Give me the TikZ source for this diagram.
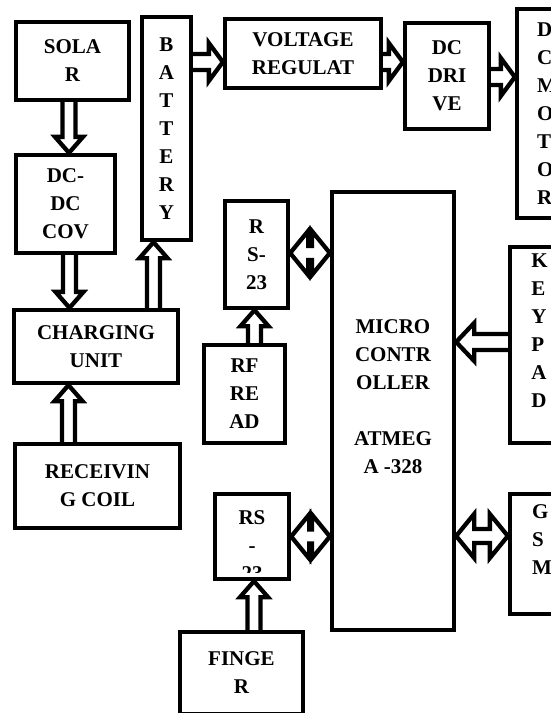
\documentclass[tikz,border=0pt]{standalone}
\usepackage{fontspec}
\setmainfont{Liberation Serif Bold}
\usetikzlibrary{calc}
\tikzset{
  box/.style={draw, line width=4.3pt, align=center, inner sep=0pt,
    font=\fontsize{21}{28}\selectfont},
  txt/.style={align=center, inner sep=0pt, font=\fontsize{21}{28}\selectfont},
  arr/.style={draw, line width=4.3pt, line join=miter, miter limit=10},
}
% horizontal single block arrow: start, end, head length
\newcommand\harrow[3]{%
  \path[arr] let \p1=(#1), \p2=(#2), \n1={ifthenelse(\x2>\x1,1,-1)} in
   (\x1,\y1+8pt) -- (\x2-\n1*#3,\y1+8pt) -- (\x2-\n1*#3,\y1+19pt) -- (\x2,\y1)
   -- (\x2-\n1*#3,\y1-19pt) -- (\x2-\n1*#3,\y1-8pt) -- (\x1,\y1-8pt);}
% vertical single block arrow: start, end
\newcommand\varrow[2]{%
  \path[arr] let \p1=(#1), \p2=(#2), \n1={ifthenelse(\y2>\y1,1,-1)} in
   (\x1-6.5pt,\y1) -- (\x1-6.5pt,\y2-\n1*16pt) -- (\x1-14pt,\y2-\n1*16pt) -- (\x1,\y2)
   -- (\x1+14pt,\y2-\n1*16pt) -- (\x1+6.5pt,\y2-\n1*16pt) -- (\x1+6.5pt,\y1);}
% horizontal double block arrow: left start, right end
\newcommand\darrow[2]{%
  \path[arr] let \p1=(#1), \p2=(#2) in
   (\x1,\y1) -- (\x1+18pt,\y1+22pt) -- (\x1+18pt,\y1+7pt) -- (\x2-18pt,\y1+7pt)
   -- (\x2-18pt,\y1+22pt) -- (\x2,\y1) -- (\x2-18pt,\y1-22pt) -- (\x2-18pt,\y1-7pt)
   -- (\x1+18pt,\y1-7pt) -- (\x1+18pt,\y1-22pt) -- cycle;}
\begin{document}
\begin{tikzpicture}[x=1pt,y=-1pt]
\useasboundingbox (0,0) rectangle (550,713);
% boxes
\node[box, minimum width=113, minimum height=78] (solar) at (72.5,61) {SOLA\\R};
\node[box, minimum width=49, minimum height=223] (battery) at (166.5,128.5) {B\\A\\T\\T\\E\\R\\Y};
\node[box, minimum width=156, minimum height=69] (volt) at (303,53.5) {VOLTAGE\\REGULAT};
\node[box, minimum width=84, minimum height=106] (dcdrive) at (447,76) {DC\\DRI\\VE};
\node[box, align=left, minimum width=60, minimum height=209] (motor) at (547,113.5) {D\\C\\M\\O\\T\\O\\R};
\node[box, minimum width=99, minimum height=98] (dcdc) at (65.5,204) {DC-\\DC\\COV};
\node[box, minimum width=164, minimum height=73] (charging) at (96,346.5) {CHARGING\\UNIT};
\node[box, minimum width=165, minimum height=84] (recv) at (97.5,486) {RECEIVIN\\G COIL};
\node[box, minimum width=63, minimum height=107] (rs1) at (256.5,254.5) {R\\S-\\23};
\node[box, minimum width=81, minimum height=98] (rf) at (244.5,394) {RF\\RE\\AD};
\node[box, minimum width=122, minimum height=438] (micro) at (393,411)
  {MICRO\\CONTR\\OLLER\\[28pt]ATMEG\\A -328\\ \mbox{}};
\node[box, align=left, minimum width=59, minimum height=196] (keypad) at (539.5,345)
  {K\\E\\Y\\P\\A\\D\\ \mbox{}};
\node[box, align=left, minimum width=64, minimum height=120] (gsm) at (542,554)
  {G\\S\\M\\ \mbox{}};
\node[box, minimum width=74, minimum height=85] (rs2) at (252,536.5) {};
\begin{scope}
  \clip (213,492) rectangle (291,572);
  \node[txt] (rs2text) at (252,546) {RS\\-\\23};
\end{scope}
\node[box, minimum width=123, minimum height=82] (finger) at (241.5,673) {FINGE\\R};
% arrows
\harrow{$(battery.east)+(0,-66.5)$}{volt.west}{14pt}
\harrow{$(volt.east)+(0,8.5)$}{dcdrive.west}{14pt}
\harrow{$(dcdrive.east)+(0,1)$}{motor.west}{14pt}
\harrow{$(keypad.west)+(0,-3)$}{micro.east}{18pt}
\varrow{$(solar.south)+(-3.5,0)$}{dcdc.north}
\varrow{$(dcdc.south)+(4,0)$}{charging.north}
\varrow{$(recv.north)+(-29,0)$}{charging.south}
\varrow{$(charging.north)+(57.5,0)$}{battery.south}
\varrow{$(rf.north)+(10,0)$}{rs1.south}
\varrow{$(finger.north)+(12.5,0)$}{rs2.south}
\darrow{$(rs1.east)+(0,-1.5)$}{micro.west}
\darrow{rs2.east}{micro.west}
\darrow{$(micro.east)+(0,125)$}{gsm.west}
\end{tikzpicture}
\end{document}
